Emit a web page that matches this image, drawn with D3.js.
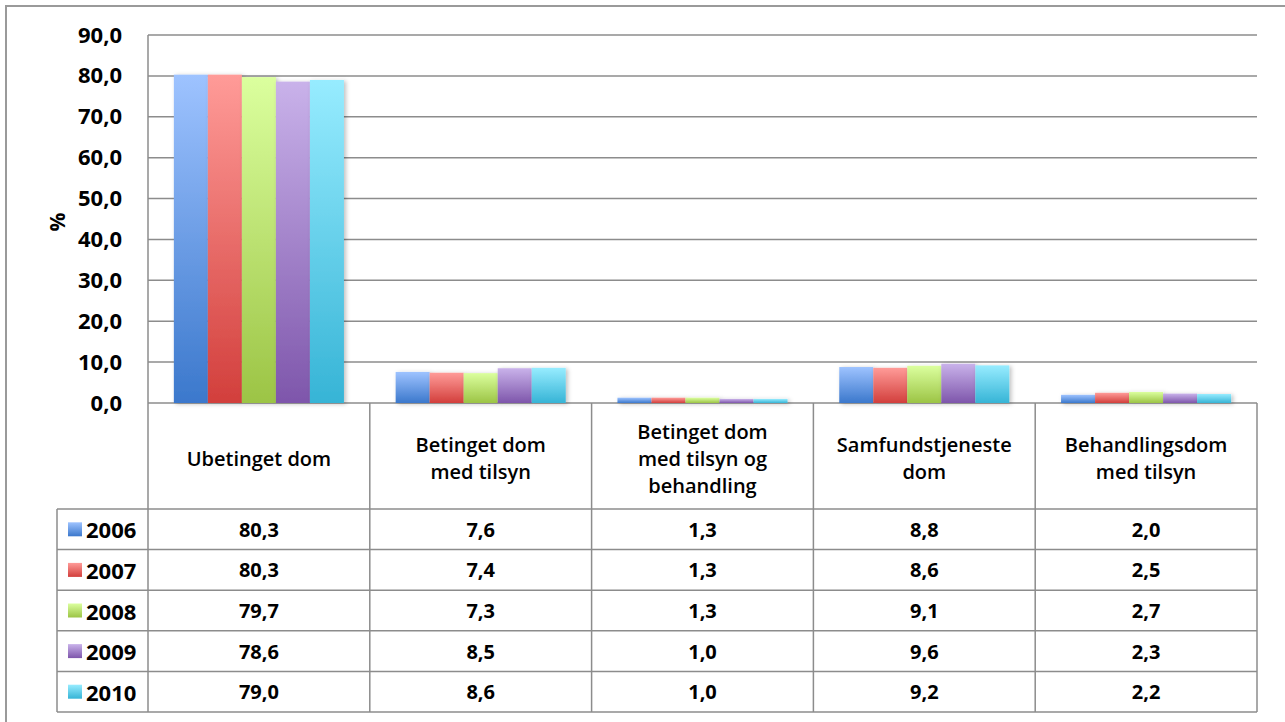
<!DOCTYPE html>
<html><head><meta charset="utf-8">
<script src="https://cdn.jsdelivr.net/npm/d3@7"></script>
<style>body{margin:0;background:#fff}svg{display:block}</style>
</head><body>
<script>
const categories = [["Ubetinget dom"],["Betinget dom","med tilsyn"],["Betinget dom","med tilsyn og","behandling"],["Samfundstjeneste","dom"],["Behandlingsdom","med tilsyn"]];
const years = ["2006","2007","2008","2009","2010"];
const v2006 = [80.3,7.6,1.3,8.8,2.0];
const v2007 = [80.3,7.4,1.3,8.6,2.5];
const v2008 = [79.7,7.3,1.3,9.1,2.7];
const v2009 = [78.6,8.5,1.0,9.6,2.3];
const v2010 = [79.0,8.6,1.0,9.2,2.2];
const series = [v2006,v2007,v2008,v2009,v2010];
const yTicks = [0,10,20,30,40,50,60,70,80,90];
const colTop = ["#9ec3ff","#ff9b98","#dbff9e","#c9b2ea","#97ecff"];
const colBot = ["#3b78cc","#d23f3c","#9cc445","#7e56ab","#36b4d6"];

const W=1285,H=722;
const svg=d3.select("body").append("svg").attr("width",W).attr("height",H);
const font="'Open Sans', Calibri, sans-serif";
const defs=svg.append("defs");
colTop.forEach((c,i)=>{
  const g=defs.append("linearGradient").attr("id","g"+i).attr("x1",0).attr("y1",0).attr("x2",0).attr("y2",1);
  g.append("stop").attr("offset","0%").attr("stop-color",c);
  g.append("stop").attr("offset","100%").attr("stop-color",colBot[i]);
});
const f=defs.append("filter").attr("id","sh").attr("x","-20%").attr("y","-5%").attr("width","140%").attr("height","110%");
f.append("feDropShadow").attr("dx",2).attr("dy",1).attr("stdDeviation",2).attr("flood-color","#000").attr("flood-opacity",0.25);

// outer frame
svg.append("rect").attr("x",6).attr("y",6).attr("width",1300).attr("height",740).attr("fill","none").attr("stroke","#9a9a9a").attr("stroke-width",2);

const L=148,R=1257,T=35,B=403;
const x=d3.scaleBand().domain(d3.range(5)).range([L,R]);
const xi=d3.scaleBand().domain(d3.range(5)).range([0,x.bandwidth()]).paddingOuter(0.76).paddingInner(0);
const y=d3.scaleLinear().domain([0,90]).range([B,T]);

// gridlines
svg.append("g").selectAll("line").data(yTicks).join("line")
 .attr("x1",L).attr("x2",R).attr("y1",d=>y(d)).attr("y2",d=>y(d))
 .attr("stroke","#8c8c8c").attr("stroke-width",1.5);

// y axis
const ya=svg.append("g").attr("transform",`translate(${L},0)`)
 .call(d3.axisLeft(y).tickValues(yTicks).tickSize(0).tickPadding(26).tickFormat(d=>d3.format(".1f")(d).replace(".",",")));
ya.select(".domain").remove();
ya.selectAll("text").attr("font-family",font).attr("font-weight","bold").attr("font-size",22).attr("fill","#000");

svg.append("text").attr("transform","translate(57,222) rotate(-90)").attr("text-anchor","middle").attr("dominant-baseline","central")
 .attr("font-family",font).attr("font-weight","bold").attr("font-size",21).text("%");

// bars
series.forEach((s,si)=>{
  svg.append("g").attr("filter","url(#sh)").selectAll("rect").data(s).join("rect")
   .attr("x",(d,i)=>x(i)+xi(si)).attr("width",xi.bandwidth())
   .attr("y",d=>y(d)).attr("height",d=>B-y(d)).attr("fill",`url(#g${si})`);
});

// table lines
const rowTop=509, rh=40.6, TB=rowTop+5*rh;
const lg=svg.append("g").attr("stroke","#8c8c8c").attr("stroke-width",1.5).attr("fill","none");
d3.range(6).forEach(i=>{
  const xx = i<5 ? x(i) : R;
  lg.append("line").attr("x1",xx).attr("x2",xx).attr("y1",i===0?T:B).attr("y2",TB);
});
lg.append("line").attr("x1",57).attr("x2",57).attr("y1",rowTop).attr("y2",TB);
d3.range(6).forEach(r=>{
  lg.append("line").attr("x1",57).attr("x2",R).attr("y1",rowTop+r*rh).attr("y2",rowTop+r*rh);
});

// category labels
categories.forEach((c,i)=>{
  const cx=x(i)+x.bandwidth()/2, cy=(B+rowTop)/2+2, lh=27;
  const t=svg.append("text").attr("text-anchor","middle").attr("font-family",font).attr("font-weight","600").attr("font-size",20).attr("fill","#000");
  c.forEach((line,j)=>{
    t.append("tspan").attr("x",cx).attr("y",cy+(j-(c.length-1)/2)*lh).attr("dominant-baseline","central").text(line);
  });
});

// legend rows and values
years.forEach((yr,r)=>{
  const cy=rowTop+r*rh+rh/2;
  svg.append("rect").attr("x",68).attr("y",cy-7).attr("width",14).attr("height",14).attr("fill",`url(#g${r})`);
  svg.append("text").attr("x",86).attr("y",cy).attr("dominant-baseline","central").attr("font-family",font).attr("font-weight","bold").attr("font-size",22).text(yr);
  series[r].forEach((v,i)=>{
    svg.append("text").attr("x",x(i)+x.bandwidth()/2).attr("y",cy).attr("text-anchor","middle").attr("dominant-baseline","central")
     .attr("font-family",font).attr("font-weight","bold").attr("font-size",20).text(d3.format(".1f")(v).replace(".",","));
  });
});
</script>
</body></html>
